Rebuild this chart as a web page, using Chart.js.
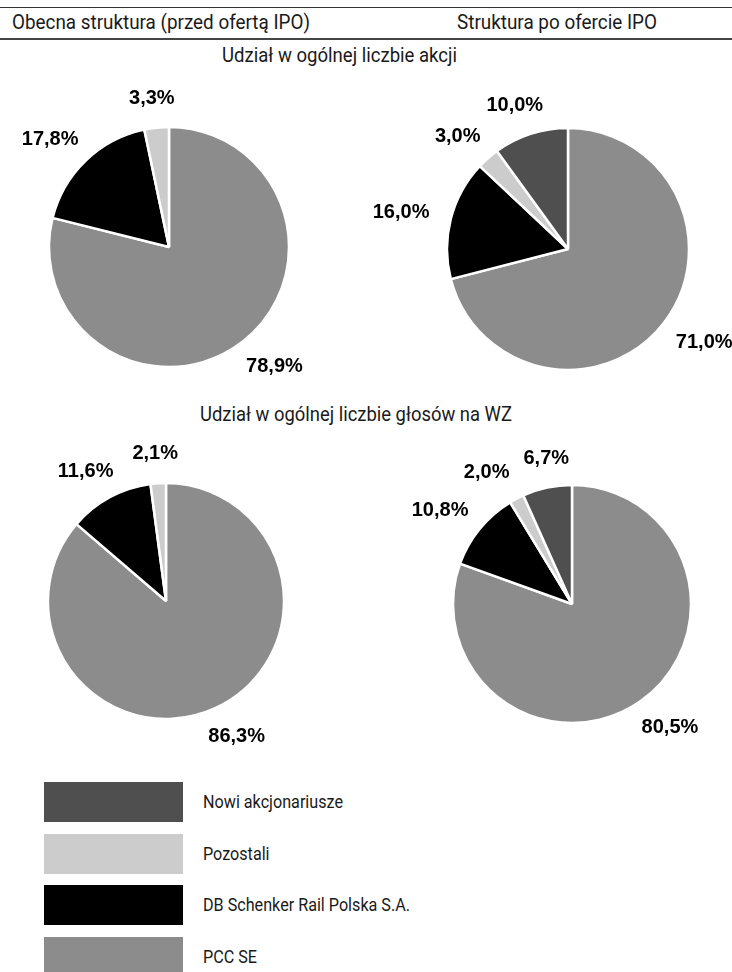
<!DOCTYPE html>
<html lang="pl">
<head>
<meta charset="utf-8">
<title>Struktura akcjonariatu</title>
<script src="https://cdn.jsdelivr.net/npm/chart.js@4.4.1/dist/chart.umd.min.js"></script>
<style>
  html, body { margin: 0; padding: 0; background: #fff; }
  body { width: 732px; height: 972px; position: relative; overflow: hidden; }
  .txt {
    position: absolute; white-space: nowrap; color: #1a1a1a;
    font-family: Roboto, "Noto Sans", sans-serif;
    font-size: 20px; line-height: 20px; transform-origin: left top;
    display: inline-block;
  }
  .legend-label { font-size: 19px; line-height: 19px; }
  .rule { position: absolute; left: 0; width: 732px; background: #333; }
  .box { position: absolute; left: 44px; width: 139px; }
  canvas { position: absolute; }
</style>
</head>
<body>

<div class="rule" style="top:7px;height:1px;"></div>
<div class="rule" style="top:38px;height:2px;background:#444;"></div>

<div class="txt" id="headLeft" style="left:12px;top:12px;">Obecna struktura (przed ofertą IPO)</div>
<div class="txt" id="headRight" style="left:457px;top:12px;">Struktura po ofercie IPO</div>
<div class="txt" id="title1" style="left:222px;top:45px;">Udział w ogólnej liczbie akcji</div>
<div class="txt" id="title2" style="left:200px;top:404px;">Udział w ogólnej liczbie głosów na WZ</div>

<canvas id="pie1" width="440" height="340"></canvas>
<canvas id="pie2" width="440" height="340"></canvas>
<canvas id="pie3" width="440" height="340"></canvas>
<canvas id="pie4" width="440" height="340"></canvas>

<div id="legend"></div>

<script>
// categories, in the order the slices run clockwise from 12 o'clock
const categories = ['PCC SE', 'DB Schenker Rail Polska S.A.', 'Pozostali', 'Nowi akcjonariusze'];
const colors = ['#8c8c8c', '#000000', '#cccccc', '#4f4f4f'];

// shares (%) - udział w ogólnej liczbie akcji
const sharesBefore = [78.9, 17.8, 3.3, null];
const sharesAfter = [71.0, 16.0, 3.0, 10.0];

// votes (%) - udział w ogólnej liczbie głosów na WZ
const votesBefore = [86.3, 11.6, 2.1, null];
const votesAfter = [80.5, 10.8, 2.0, 6.7];

// legend goes top to bottom in reverse order
const legendOrder = [3, 2, 1, 0];

function formatPct(v) {
    return v.toFixed(1).replace('.', ',') + '%';
}

// value labels outside each slice: the label box sits just past the rim,
// pushed outwards by half its size along the slice's middle direction
const pieLabels = {
    id: 'pieLabels',
    afterDatasetsDraw(chart) {
        const ctx = chart.ctx;
        const meta = chart.getDatasetMeta(0);
        const values = chart.data.datasets[0].data;
        const gap = 23;
        const h = 15;
        const minSpace = 14;
        ctx.save();
        ctx.font = 'bold 20px "Liberation Sans", Arial, sans-serif';
        ctx.fillStyle = '#000';
        ctx.textAlign = 'center';
        ctx.textBaseline = 'middle';

        const labels = [];
        meta.data.forEach((arc, i) => {
            if (values[i] == null) return;
            const p = arc.getProps(['x', 'y', 'startAngle', 'endAngle', 'outerRadius'], true);
            const mid = (p.startAngle + p.endAngle) / 2;
            const ux = Math.cos(mid), uy = Math.sin(mid);
            const text = formatPct(values[i]);
            const w = ctx.measureText(text).width;
            const R = p.outerRadius + gap;
            labels.push({
                text, w,
                x: p.x + R * ux + w / 2 * ux,
                y: p.y + R * uy + h / 2 * uy
            });
        });

        // spread labels that crowd each other on the same row
        for (let a = 0; a < labels.length; a++) {
            for (let b = a + 1; b < labels.length; b++) {
                const A = labels[a], B = labels[b];
                if (Math.abs(A.y - B.y) > h + 8) continue;
                const left = A.x < B.x ? A : B;
                const right = left === A ? B : A;
                const space = (right.x - right.w / 2) - (left.x + left.w / 2);
                if (space < minSpace) {
                    const push = (minSpace - space) / 2;
                    left.x -= push;
                    right.x += push;
                }
            }
        }

        labels.forEach(l => ctx.fillText(l.text, l.x, l.y + 1));
        ctx.restore();
    }
};

function makePie(id, values, cx, cy, r) {
    const canvas = document.getElementById(id);
    canvas.style.left = (cx - canvas.width / 2) + 'px';
    canvas.style.top = (cy - canvas.height / 2) + 'px';
    return new Chart(canvas.getContext('2d'), {
        type: 'pie',
        data: {
            labels: categories,
            datasets: [{
                data: values,
                backgroundColor: colors,
                borderColor: '#ffffff',
                borderWidth: 2.5,
                radius: r
            }]
        },
        options: {
            responsive: false,
            animation: false,
            layout: { padding: 0 },
            plugins: {
                legend: { display: false },
                tooltip: { enabled: false }
            }
        },
        plugins: [pieLabels]
    });
}

makePie('pie1', sharesBefore, 169, 247, 120);
makePie('pie2', sharesAfter, 568, 249, 121);
makePie('pie3', votesBefore, 166, 601, 118);
makePie('pie4', votesAfter, 572, 604, 119);

// legend
const legendEl = document.getElementById('legend');
const boxTops = [782, 834, 885, 937];
legendOrder.forEach((idx, row) => {
    const box = document.createElement('div');
    box.className = 'box';
    box.style.top = boxTops[row] + 'px';
    box.style.height = '40px';
    box.style.background = colors[idx];
    legendEl.appendChild(box);

    const lab = document.createElement('div');
    lab.className = 'txt legend-label';
    lab.style.left = '203px';
    lab.style.top = (boxTops[row] + 10) + 'px';
    lab.textContent = categories[idx];
    legendEl.appendChild(lab);
});

// squeeze the text to the narrow look of the original typeface
function fit(el, width) {
    const w = el.getBoundingClientRect().width;
    const k = width / w;
    el.style.transform = 'scaleX(' + k + ')';
    return k;
}
fit(document.getElementById('headLeft'), 298);
fit(document.getElementById('headRight'), 200);
fit(document.getElementById('title1'), 235);
fit(document.getElementById('title2'), 312);
const legendLabels = legendEl.querySelectorAll('.legend-label');
const k = fit(legendLabels[0], 140);
legendLabels.forEach(el => { el.style.transform = 'scaleX(' + k + ')'; });
</script>
</body>
</html>
